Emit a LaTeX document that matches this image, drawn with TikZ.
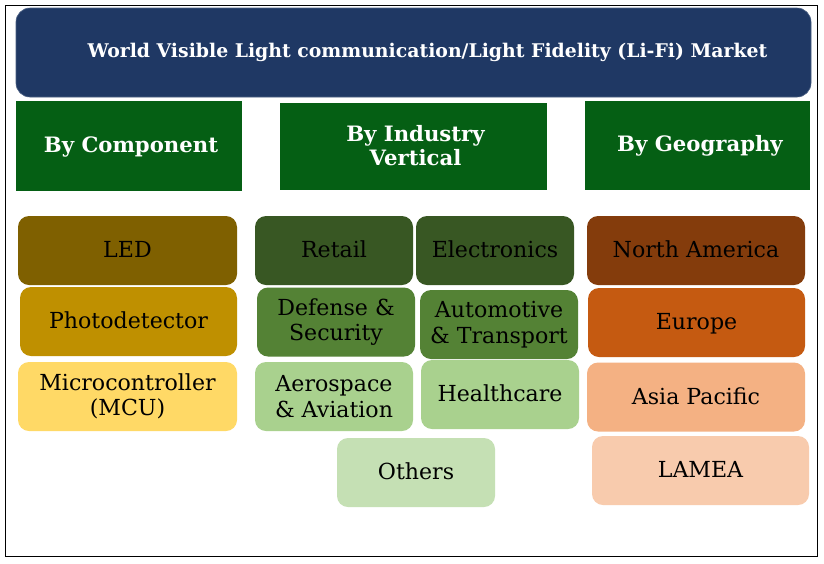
\documentclass[tikz,border=0pt]{standalone}
\usepackage{fontspec}
\setmainfont{DejaVu Serif}
\definecolor{navy}{HTML}{1F3864}
\definecolor{dkgreen}{HTML}{055F14}
\definecolor{ledc}{HTML}{7F6000}
\definecolor{phoc}{HTML}{BF9000}
\definecolor{mcuc}{HTML}{FFD966}
\definecolor{g1}{HTML}{385723}
\definecolor{g2}{HTML}{548235}
\definecolor{g3}{HTML}{A9D18E}
\definecolor{g4}{HTML}{C5E0B4}
\definecolor{o1}{HTML}{843C0C}
\definecolor{o2}{HTML}{C55A11}
\definecolor{o3}{HTML}{F4B183}
\definecolor{o4}{HTML}{F8CBAD}
\tikzset{
  x=1pt,y=-1pt,
  box/.style={rectangle,inner sep=0pt,align=center,text=black,font=\fontsize{22.1}{25.5}\selectfont},
  item/.style={box,rounded corners=11pt,minimum width=#1,minimum height=69pt},
  oneline/.style={text height=20pt,text depth=6pt},
  panel/.style={rectangle,fill=dkgreen},
  head/.style={box,text=white,font=\fontsize{21.2}{23.5}\bfseries\selectfont},
}
\begin{document}
\begin{tikzpicture}
\useasboundingbox (0,0) rectangle (824,563);
\fill[white] (0,0) rectangle (824,563);
\draw[black,line width=1pt] (5.5,5.5) rectangle (817,556);
\node[box,fill=navy,draw=navy!80!white,line width=0.6pt,rounded corners=14pt,minimum width=795pt,minimum height=89pt] (title) at (413.5,52.5) {};
\node[text=white,font=\fontsize{18.85}{22}\bfseries\selectfont,inner sep=0pt] (titletext) at (427.5,52) {World Visible Light communication/Light Fidelity (Li-Fi) Market};
\node[panel,minimum width=226pt,minimum height=90pt] (comp) at (129,146) {};
\node[head] (comptext) at (131,146.5) {By Component};
\node[panel,minimum width=267pt,minimum height=87pt] (ind) at (413.5,146.5) {};
\node[head] (indtext) at (415.5,145.5) {By Industry\\Vertical};
\node[panel,minimum width=225pt,minimum height=89pt] (geo) at (697.5,145.5) {};
\node[head] (geotext) at (700,146) {By Geography};
\node[item=219pt,fill=ledc,oneline] (led) at (127.5,250.5) {LED};
\node[item=217pt,fill=phoc,oneline] (photo) at (128.5,321.5) {Photodetector};
\node[item=219pt,fill=mcuc] (mcu) at (127.5,396.5) {Microcontroller\\(MCU)};
\node[item=158pt,fill=g1,oneline] (retail) at (334,250.5) {Retail};
\node[item=158pt,fill=g1,oneline] (elec) at (495,250.5) {Electronics};
\node[item=158pt,fill=g2] (def) at (336,322) {Defense \&\\Security};
\node[item=158pt,fill=g2] (auto) at (499,324.5) {Automotive\\\& Transport};
\node[item=158pt,fill=g3] (aero) at (334,396.5) {Aerospace\\\& Aviation};
\node[item=158pt,fill=g3,oneline] (health) at (500,394.5) {Healthcare};
\node[item=158pt,fill=g4,oneline] (others) at (416,472.5) {Others};
\node[item=218pt,fill=o1,oneline] (na) at (696,250.5) {North America};
\node[item=217pt,fill=o2,oneline] (eu) at (696.5,322.5) {Europe};
\node[item=218pt,fill=o3,oneline] (asia) at (696,397) {Asia Pacific};
\node[item=217pt,fill=o4,oneline] (lamea) at (700.5,470.5) {LAMEA};
\end{tikzpicture}
\end{document}
